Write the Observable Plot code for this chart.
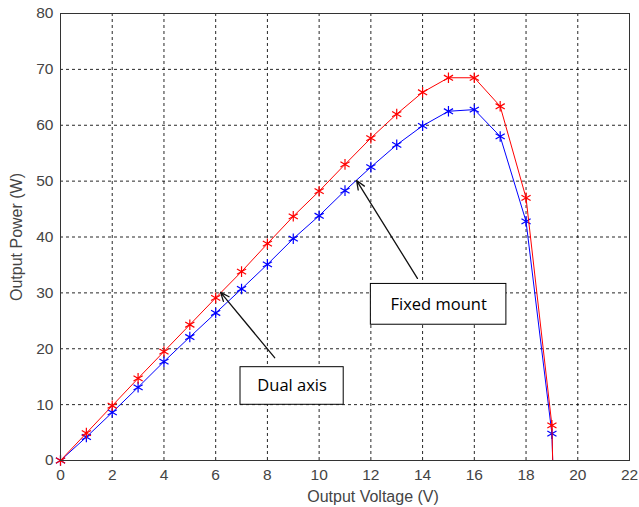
<!DOCTYPE html>
<html>
<head>
<meta charset="utf-8">
<script src="https://cdn.jsdelivr.net/npm/d3@7"></script>
<script src="https://cdn.jsdelivr.net/npm/@observablehq/plot@0.6"></script>
<style>
  html, body { margin: 0; padding: 0; background: #fff; }
</style>
</head>
<body>
<div id="chart"></div>
<script>
// Data
const voltage    = [0, 1, 2, 3, 4, 5, 6, 7, 8, 9, 10, 11, 12, 13, 14, 15, 16, 17, 18, 19, 19.03];
const dualAxis   = [0, 4.9, 9.8, 14.7, 19.5, 24.3, 29.1, 33.8, 38.8, 43.7, 48.2, 53.0, 57.7, 62.0, 65.9, 68.5, 68.5, 63.4, 47.0, 6.3, 0];
const fixedMount = [0, 4.2, 8.6, 13.1, 17.7, 22.1, 26.4, 30.7, 35.1, 39.7, 43.8, 48.3, 52.5, 56.5, 59.9, 62.5, 62.8, 58.0, 42.8, 4.8, 0];
const hasMarker  = [1, 1, 1, 1, 1, 1, 1, 1, 1, 1, 1, 1, 1, 1, 1, 1, 1, 1, 1, 1, 0];

const xTicks = [0, 2, 4, 6, 8, 10, 12, 14, 16, 18, 20, 22];
const yTicks = [0, 10, 20, 30, 40, 50, 60, 70, 80];

const xLabel = "Output Voltage (V)";
const yLabel = "Output Power (W)";

// Annotations (data coordinates)
const noteText   = ["Fixed mount", "Dual axis"];
const noteX1     = [12.0, 6.96];
const noteX2     = [17.24, 10.95];
const noteY1     = [24.3, 9.97];
const noteY2     = [31.6, 16.7];
const arrowFromX = [13.8, 8.28];
const arrowFromY = [32.6, 18.4];
const arrowToX   = [11.45, 6.19];
const arrowToY   = [50.1, 30.1];

const blue = voltage.map((v, i) => ({x: v, y: fixedMount[i], m: hasMarker[i]}));
const red  = voltage.map((v, i) => ({x: v, y: dualAxis[i], m: hasMarker[i]}));
const notes = noteText.map((t, i) => ({
  text: t, x1: noteX1[i], x2: noteX2[i], y1: noteY1[i], y2: noteY2[i],
  ax1: arrowFromX[i], ay1: arrowFromY[i], ax2: arrowToX[i], ay2: arrowToY[i]
}));

const chart = Plot.plot({
  width: 639,
  height: 507,
  marginLeft: 60,
  marginRight: 10,
  marginTop: 13,
  marginBottom: 47,
  style: {fontFamily: "'Liberation Sans', Arial, sans-serif", fontSize: "15.5px", color: "#444", background: "#fff"},
  x: {domain: [0, 22], ticks: xTicks, tickSize: 0, tickPadding: 8, label: null},
  y: {domain: [0, 80], ticks: yTicks, tickSize: 0, tickPadding: 7, label: null},
  marks: [
    Plot.gridX(xTicks, {stroke: "#000", strokeOpacity: 0.85, strokeDasharray: "3,3"}),
    Plot.gridY(yTicks, {stroke: "#000", strokeOpacity: 0.85, strokeDasharray: "3,3"}),
    Plot.line(blue, {x: "x", y: "y", stroke: "#0000ff", strokeWidth: 1}),
    Plot.dot(blue.filter(d => d.m), {x: "x", y: "y", symbol: "asterisk", r: 5, stroke: "#0000ff", strokeWidth: 1.2}),
    Plot.line(red, {x: "x", y: "y", stroke: "#ff0000", strokeWidth: 1}),
    Plot.dot(red.filter(d => d.m), {x: "x", y: "y", symbol: "asterisk", r: 5, stroke: "#ff0000", strokeWidth: 1.2}),
    Plot.frame({stroke: "#333", strokeWidth: 1}),
    Plot.arrow(notes, {x1: "ax1", y1: "ay1", x2: "ax2", y2: "ay2", stroke: "#111", strokeWidth: 1.3, headLength: 11, headAngle: 45}),
    Plot.rect(notes, {x1: "x1", x2: "x2", y1: "y1", y2: "y2", fill: "#fff", stroke: "#000", strokeWidth: 1}),
    Plot.text(notes, {x: d => (d.x1 + d.x2) / 2, y: d => (d.y1 + d.y2) / 2, text: "text", fill: "#000",
      fontFamily: "'Open Sans', sans-serif", fontSize: 16.5}),
    Plot.text([xLabel], {frameAnchor: "bottom", dx: 28, dy: 36, lineAnchor: "middle", textAnchor: "middle",
      text: d => d, fill: "#444", fontSize: 16}),
    Plot.text([yLabel], {frameAnchor: "left", dx: -44, rotate: -90, lineAnchor: "middle", textAnchor: "middle",
      text: d => d, fill: "#444", fontSize: 16})
  ]
});

document.getElementById("chart").appendChild(chart);
</script>
</body>
</html>
